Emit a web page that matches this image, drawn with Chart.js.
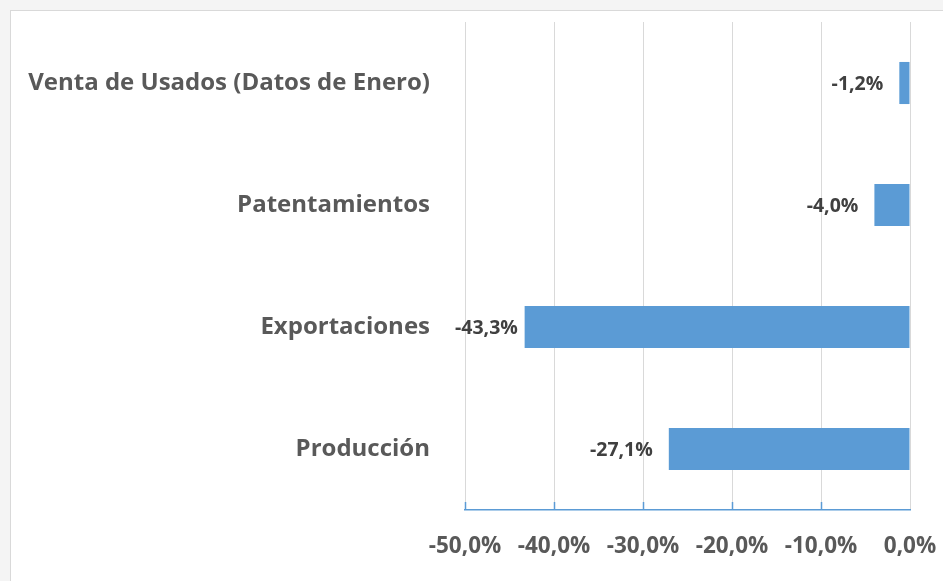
<!DOCTYPE html>
<html>
<head>
<meta charset="utf-8">
<script src="https://cdn.jsdelivr.net/npm/chart.js@4.4.1/dist/chart.umd.min.js"></script>
<style>
  html, body { margin: 0; padding: 0; background: #f4f4f4; }
  #wrap { width: 943px; height: 581px; position: relative; }
</style>
</head>
<body>
<div id="wrap"><canvas id="chart"></canvas></div>
<script>
// datos
const categories = ['Venta de Usados (Datos de Enero)', 'Patentamientos', 'Exportaciones', 'Producción'];
const values = [-1.2, -4.0, -43.3, -27.1];
const xTickValues = [-50, -40, -30, -20, -10, 0];

const FONT = '"Open Sans"';
const fmt = (v) => v.toFixed(1).replace('.', ',') + '%';

// fondo + marco gris del gráfico
const frame = {
    id: 'frame',
    beforeDraw(chart) {
        const ctx = chart.ctx;
        ctx.save();
        ctx.fillStyle = '#f4f4f4';
        ctx.fillRect(0, 0, chart.width, chart.height);
        ctx.fillStyle = '#ffffff';
        ctx.fillRect(10, 10, chart.width, chart.height);
        ctx.strokeStyle = '#d9d9d9';
        ctx.lineWidth = 1;
        ctx.strokeRect(10.5, 10.5, chart.width + 10, chart.height + 10);
        ctx.restore();
    }
};

// marcas internas azules del eje x
const innerTicks = {
    id: 'innerTicks',
    afterDraw(chart) {
        const sx = chart.scales.x;
        const ctx = chart.ctx;
        const bottom = chart.chartArea.bottom;
        ctx.save();
        ctx.strokeStyle = '#5b9bd5';
        ctx.lineWidth = 1.5;
        xTickValues.slice(0, -1).forEach(v => {
            const px = Math.round(sx.getPixelForValue(v)) + 0.5;
            ctx.beginPath();
            ctx.moveTo(px, bottom - 8);
            ctx.lineTo(px, bottom);
            ctx.stroke();
        });
        ctx.restore();
    }
};

// etiquetas de datos a la izquierda de cada barra
const barLabels = {
    id: 'barLabels',
    afterDatasetsDraw(chart) {
        const ctx = chart.ctx;
        const meta = chart.getDatasetMeta(0);
        const minLeft = chart.chartArea.left - 10;
        ctx.save();
        ctx.font = `bold 19.5px ${FONT}`;
        ctx.fillStyle = '#404040';
        ctx.textAlign = 'right';
        ctx.textBaseline = 'middle';
        meta.data.forEach((bar, i) => {
            const txt = fmt(values[i]);
            const w = ctx.measureText(txt).width;
            let x = bar.x - 16;
            if (x - w < minLeft) x = minLeft + w;
            ctx.fillText(txt, x, bar.y + 1);
        });
        ctx.restore();
    }
};

new Chart(document.getElementById('chart'), {
    type: 'bar',
    data: {
        labels: categories,
        datasets: [{
            data: values,
            backgroundColor: '#5b9bd5',
            borderWidth: 0,
            barPercentage: 0.345,
            categoryPercentage: 1
        }]
    },
    options: {
        indexAxis: 'y',
        responsive: true,
        maintainAspectRatio: false,
        animation: false,
        layout: { padding: { left: 10, right: 33, top: 22, bottom: 0 } },
        plugins: {
            legend: { display: false },
            tooltip: { enabled: false }
        },
        scales: {
            x: {
                min: -50,
                max: 0,
                afterBuildTicks: (scale) => { scale.ticks = xTickValues.map(v => ({ value: v })); },
                afterFit: (scale) => {
                    scale.height = 71;
                    scale.paddingLeft = 0;
                    scale.paddingRight = 0;
                },
                grid: { color: '#d9d9d9', drawTicks: false, lineWidth: 1 },
                border: { display: true, color: '#5b9bd5', width: 1.5 },
                ticks: {
                    padding: 23,
                    color: '#595959',
                    font: { family: FONT, size: 22.5, weight: 'bold' },
                    callback: (v) => fmt(v)
                }
            },
            y: {
                afterFit: (scale) => {
                    scale.width = 455;
                    scale.paddingTop = 0;
                    scale.paddingBottom = 0;
                },
                grid: { display: false, drawTicks: false },
                border: { display: false },
                ticks: {
                    padding: 35,
                    color: '#595959',
                    font: { family: FONT, size: 24, weight: 'bold' }
                }
            }
        }
    },
    plugins: [frame, innerTicks, barLabels]
});
</script>
</body>
</html>
